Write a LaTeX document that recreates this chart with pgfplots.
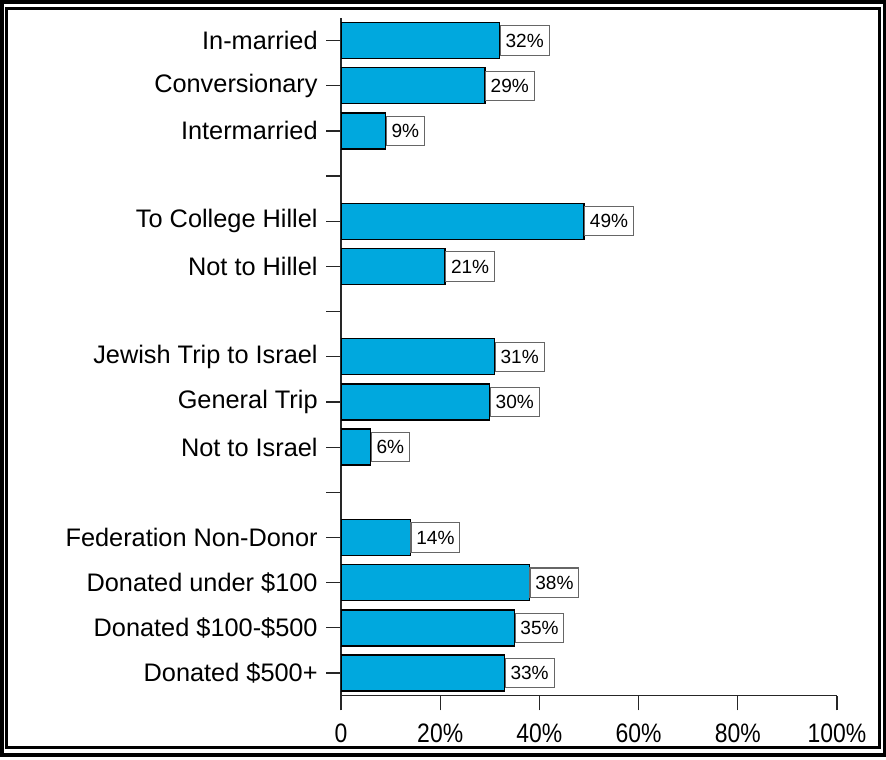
\documentclass[border=0pt]{standalone}
\usepackage{fontspec}
\setmainfont{Liberation Sans}
\usepackage{graphicx}
\usepackage{pgfplots}
\pgfplotsset{compat=1.18}
\definecolor{barblue}{RGB}{0,168,222}
\newcommand{\cx}[1]{\scalebox{0.86}[1]{#1}}
\begin{document}
\begin{tikzpicture}
\begin{scope}[x=0.75pt,y=0.75pt]
\useasboundingbox (0,0) rectangle (886,760);
\draw[line width=3pt] (2,4.5) rectangle (884.5,758);
\draw[line width=1.9pt] (6.5,12.5) rectangle (879.5,751.5);
\end{scope}
\begin{axis}[
  at={(255.75pt,48.3pt)}, anchor=south west,
  scale only axis, width=372pt, height=508.2pt,
  xbar, bar width=27pt,
  xmin=0, xmax=100, ymin=-0.5, ymax=14.5,
  axis x line=bottom, axis y line=left,
  axis line style={-, line width=0.9pt, draw=black!85},
  xtick={0,20,40,60,80,100},
  xticklabels={\cx{0},\cx{20\%},\cx{40\%},\cx{60\%},\cx{80\%},\cx{100\%}},
  ytick={0,...,14},
  yticklabels={Donated \$500+, Donated \$100-\$500, Donated under \$100, Federation Non-Donor, {}, Not to Israel, General Trip, Jewish Trip to Israel, {}, Not to Hillel, To College Hillel, {}, Intermarried, Conversionary, In-married},
  tick align=outside, major tick length=11pt,
  tick style={black!85, line width=0.9pt},
  yticklabel style={font=\fontsize{19pt}{22pt}\selectfont, text=black, xshift=-3pt},
  xticklabel style={font=\fontsize{20pt}{24pt}\selectfont, text=black, yshift=-7pt},
  /pgf/number format/assume math mode=true,
  point meta=x,
  nodes near coords={\pgfmathprintnumber{\pgfplotspointmeta}\%},
  every node near coord/.append style={font=\fontsize{14.3pt}{16pt}\selectfont, draw=black!60, fill=white, anchor=west, inner xsep=4pt, inner ysep=0pt, minimum height=22pt, line width=0.8pt, text=black},
]
\addplot[fill=barblue, draw=black, line width=1pt] coordinates {
(32,14) (29,13) (9,12)
(49,10) (21,9)
(31,7) (30,6) (6,5)
(14,3) (38,2) (35,1) (33,0)};
\end{axis}
\end{tikzpicture}
\end{document}
